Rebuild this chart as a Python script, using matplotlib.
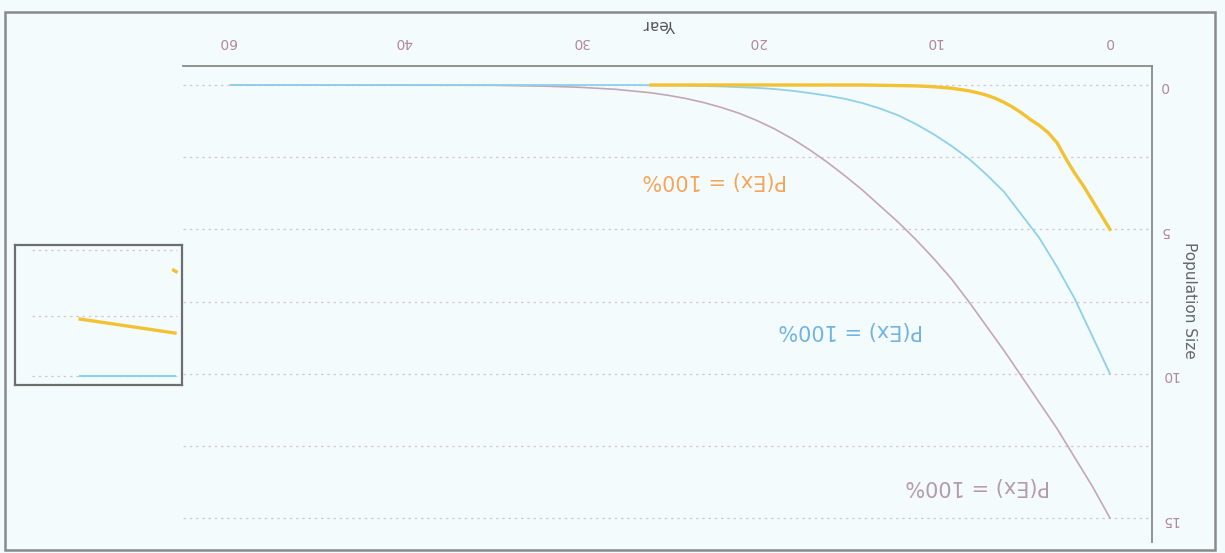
import matplotlib
matplotlib.use("Agg")
import matplotlib.pyplot as plt
from matplotlib.patches import Rectangle

# years counted backwards (chart is printed upside down)
year_ticks = [0, 10, 20, 30, 40, 50]
year_labels = ['0', '10', '20', '30', '40', '60']
pop_ticks = [0, 5, 10, 15]

yellow_years = [0, 0.5, 1, 1.5, 2, 2.5, 3.0, 3.5, 4.0, 4.5, 5, 5.5, 6, 6.5, 7, 7.5, 8, 9, 10, 11, 12, 14, 26]
yellow_pop = [5.0, 4.5, 4.0, 3.5, 3.05, 2.55, 2.0, 1.65, 1.4, 1.2, 0.97, 0.77, 0.6, 0.46, 0.35, 0.27,
              0.2, 0.11, 0.06, 0.03, 0.02, 0.0, 0.0]

cyan_years = [0, 1, 2, 3, 4, 5, 6, 7, 8, 9, 10, 11, 12, 13, 14, 15, 16, 17, 18, 19, 20, 22, 24, 27, 49.8]
cyan_pop = [10, 8.7, 7.4, 6.3, 5.3, 4.5, 3.7, 3.1, 2.55, 2.1, 1.7, 1.35, 1.05, 0.82, 0.63, 0.48,
            0.37, 0.28, 0.2, 0.14, 0.1, 0.05, 0.02, 0.0, 0.0]

grey_years = [0, 1, 2, 3, 4, 5, 6, 7, 8, 9, 10, 11, 12, 13, 14, 15, 16, 17, 18, 19, 20, 21, 22,
              23, 24, 25, 26, 28, 30, 32, 35, 49.8]
grey_pop = [15, 13.9, 12.9, 11.9, 11.0, 10.1, 9.2, 8.35, 7.5, 6.7, 6.0, 5.35, 4.75, 4.2, 3.65, 3.15,
            2.68, 2.25, 1.86, 1.52, 1.23, 0.98, 0.78, 0.61, 0.47, 0.36, 0.27, 0.15, 0.08, 0.04, 0.01, 0.0]

label_text = "P(Ex) = 100%"
label_years = [22.4, 14.7, 7.5]
label_pop = [3.3, 8.5, 13.9]
label_colors = ['#f5a55a', '#70b4e4', '#b59aae']

# small boxed fragment at the left edge
inset_grid_y = [0.964, 0.493, 0.064]
inset_yellow_x = [0.39, 0.958]
inset_yellow_y = [0.471, 0.371]
inset_mark_x = [0.95, 0.965]
inset_mark_y = [0.82, 0.81]
inset_cyan_x = [0.39, 0.96]
inset_cyan_y = [0.064, 0.064]

bg = '#f3fbfd'
fig = plt.figure(figsize=(12.25, 5.53), dpi=100, facecolor=bg)

ax = fig.add_axes([183/1225, 11/553, 969/1225, 476/553], facecolor=bg)
ax.plot(grey_years, grey_pop, color='#c4a6b8', lw=1.2)
ax.plot(cyan_years, cyan_pop, color='#8fd0ea', lw=1.3)
ax.plot(yellow_years, yellow_pop, color='#f2c232', lw=2.4)

for yr, p, c in zip(label_years, label_pop, label_colors):
    ax.text(yr, p, label_text, color=c, fontsize=15, rotation=180,
            ha='center', va='center')

ax.set_xlim(52.5, -2.38)
ax.set_ylim(15.83, -0.658)
ax.xaxis.tick_top()
ax.yaxis.tick_right()
ax.set_xticks(year_ticks)
ax.set_xticklabels(year_labels)
ax.set_yticks(pop_ticks)
ax.set_yticks([2.5, 7.5, 12.5], minor=True)
ax.tick_params(axis='x', length=0, pad=12, labelsize=10, labelcolor='#b08a98', labelrotation=180)
ax.tick_params(axis='y', length=0, pad=6, labelsize=10, labelcolor='#b08a98', labelrotation=180)
ax.tick_params(axis='y', which='minor', length=0)
ax.grid(True, axis='y', which='both', color='#d9c6cc', linestyle=(0, (2, 3)), lw=0.9)

for s in ['left', 'bottom']:
    ax.spines[s].set_visible(False)
for s in ['top', 'right']:
    ax.spines[s].set_color('#8a8a8a')
    ax.spines[s].set_linewidth(1.3)

fig.text(660/1225, 1 - 25/553, "Year", rotation=180, ha='center', va='center',
         fontsize=11, color='#555555')
fig.text(1190/1225, 1 - 300/553, "Population Size", rotation=270, ha='center', va='center',
         fontsize=11, color='#666666')

ins = fig.add_axes([15/1225, 168/553, 167/1225, 140/553], facecolor=bg)
for gy in inset_grid_y:
    ins.plot([0.1, 0.97], [gy, gy], color='#d9c6cc', linestyle=(0, (2, 3)), lw=0.9)
ins.plot(inset_yellow_x, inset_yellow_y, color='#f2c232', lw=2.4)
ins.plot(inset_mark_x, inset_mark_y, color='#f2c232', lw=2.4)
ins.plot(inset_cyan_x, inset_cyan_y, color='#8fd0ea', lw=1.5)
ins.set_xlim(0, 1)
ins.set_ylim(0, 1)
ins.set_xticks([])
ins.set_yticks([])
for s in ins.spines.values():
    s.set_color('#6e6e6e')
    s.set_linewidth(1.6)

# outer scan border
fig.patches.append(Rectangle((5/1225, 3/553), 1210/1225, 538/553, transform=fig.transFigure,
                             fill=False, edgecolor='#8a8a8a', lw=1.8))

fig.savefig("out.png", dpi=100, facecolor=bg)
